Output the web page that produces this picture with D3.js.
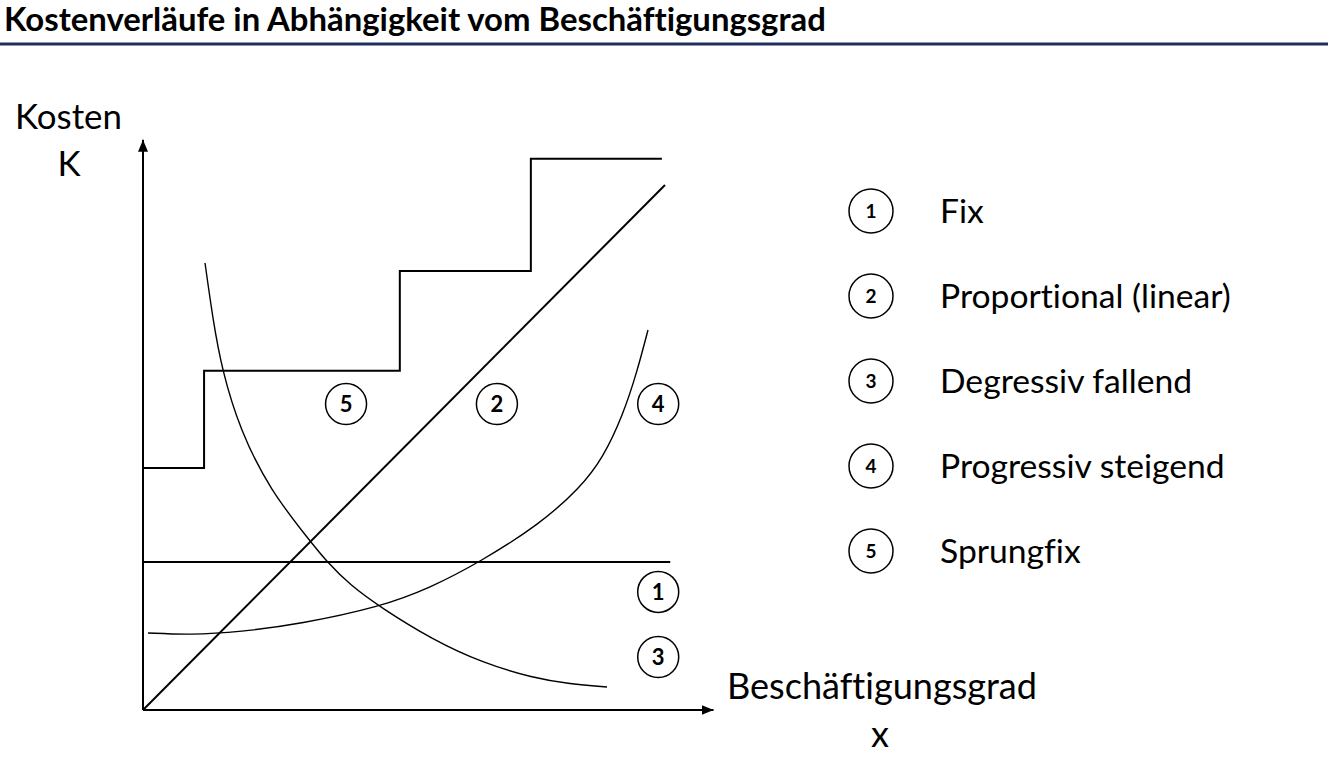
<!DOCTYPE html>
<html><head><meta charset="utf-8">
<script src="https://cdn.jsdelivr.net/npm/d3@7"></script>
<style>body{margin:0;background:#fff}svg{display:block}text{font-variant-ligatures:none;font-feature-settings:"liga" 0,"clig" 0}</style>
</head><body>
<svg id="c" width="1328" height="762"></svg>
<script>
// ---- data ----
const title = "Kostenverläufe in Abhängigkeit vom Beschäftigungsgrad";
const yAxisLabel = ["Kosten", "K"];
const xAxisLabel = ["Beschäftigungsgrad", "x"];
const legendIds = ["1", "2", "3", "4", "5"];
const legendNames = ["Fix", "Proportional (linear)", "Degressiv fallend", "Progressiv steigend", "Sprungfix"];

const fixX = [0, 101];
const fixY = [28.2, 28.2];
const linearX = [0, 100];
const linearY = [0, 100];
const degressivX = [11.88, 13.41, 15.13, 18.58, 24.33, 31.99, 35.25, 39.66, 45.40, 55.56, 65.13, 74.71, 81.80, 88.89];
const degressivY = [85.14, 74.29, 64.76, 53.33, 41.90, 32.19, 28.19, 23.81, 19.62, 13.33, 8.95, 6.10, 4.95, 4.38];
const progressivX = [0.96, 9.00, 18.58, 30.08, 45.40, 54.98, 64.56, 76.05, 83.72, 88.12, 91.95, 94.64, 96.74];
const progressivY = [14.67, 14.29, 14.86, 16.38, 19.62, 23.24, 28.19, 35.43, 42.29, 48.00, 56.19, 64.38, 72.38];
const sprungX = [0, 11.7, 49.2, 74.3, 99.4];
const sprungY = [46.1, 64.6, 83.6, 105, 105];
const markerIds = ["5", "2", "4", "1", "3"];
const markerX = [38.9, 67.8, 98.7, 98.7, 98.7];
const markerY = [58.3, 58.3, 58.3, 22.5, 10.1];
const axisMaxX = 109.3;
const axisMaxY = 108.6;

// ---- drawing ----
const svg = d3.select("#c");
const FONT = "Lato, 'Open Sans', sans-serif";
const x = d3.scaleLinear().domain([0, 100]).range([143, 665]);
const y = d3.scaleLinear().domain([0, 100]).range([710, 185]);

function fit(sel, w) {
  const l = sel.node().getComputedTextLength();
  const fs = parseFloat(sel.attr("font-size"));
  const nf = fs * w / l;
  sel.attr("font-size", nf);
  return nf;
}

// title
const t = svg.append("text").attr("x", 4).attr("y", 31).attr("font-family", FONT)
  .attr("font-weight", 700).attr("font-size", 28).attr("fill", "#000").text(title);
fit(t, 822);
svg.append("rect").attr("x", 0).attr("y", 42.5).attr("width", 1328).attr("height", 3).attr("fill", "#1f2f5e");

// arrow marker
const defs = svg.append("defs");
defs.append("marker").attr("id", "arr").attr("viewBox", "0 0 12 10").attr("refX", 12).attr("refY", 5)
  .attr("markerWidth", 12).attr("markerHeight", 10).attr("markerUnits", "userSpaceOnUse").attr("orient", "auto")
  .append("path").attr("d", "M0,0 L12,5 L0,10 Z").attr("fill", "#000");

// axes
svg.append("line").attr("x1", x(0)).attr("y1", y(0)).attr("x2", x(0)).attr("y2", y(axisMaxY))
  .attr("stroke", "#000").attr("stroke-width", 2).attr("marker-end", "url(#arr)");
svg.append("line").attr("x1", x(0)).attr("y1", y(0)).attr("x2", x(axisMaxX)).attr("y2", y(0))
  .attr("stroke", "#000").attr("stroke-width", 2).attr("marker-end", "url(#arr)");

const pts = (xs, ys) => xs.map((v, i) => [v, ys[i]]);
const lineGen = c => d3.line().x(d => x(d[0])).y(d => y(d[1])).curve(c);

svg.append("path").attr("d", lineGen(d3.curveLinear)(pts(fixX, fixY)))
  .attr("fill", "none").attr("stroke", "#000").attr("stroke-width", 2);
svg.append("path").attr("d", lineGen(d3.curveLinear)(pts(linearX, linearY)))
  .attr("fill", "none").attr("stroke", "#000").attr("stroke-width", 2);
svg.append("path").attr("d", lineGen(d3.curveStepAfter)(pts(sprungX, sprungY)))
  .attr("fill", "none").attr("stroke", "#000").attr("stroke-width", 2);
svg.append("path").attr("d", lineGen(d3.curveBasis)(pts(degressivX, degressivY)))
  .attr("fill", "none").attr("stroke", "#000").attr("stroke-width", 1.4);
svg.append("path").attr("d", lineGen(d3.curveBasis)(pts(progressivX, progressivY)))
  .attr("fill", "none").attr("stroke", "#000").attr("stroke-width", 1.4);

// numbered markers in plot
const mk = svg.append("g").selectAll("g").data(markerIds).join("g")
  .attr("transform", (d, i) => `translate(${x(markerX[i])},${y(markerY[i])})`);
mk.append("circle").attr("r", 20.5).attr("fill", "#fff").attr("stroke", "#000").attr("stroke-width", 1.5);
mk.append("text").attr("text-anchor", "middle").attr("dy", "0.36em").attr("font-family", FONT)
  .attr("font-weight", 700).attr("font-size", 22).text(d => d);

// axis labels
const k1 = svg.append("text").attr("x", 15).attr("y", 129).attr("font-family", FONT).attr("font-size", 34).text(yAxisLabel[0]);
fit(k1, 107);
svg.append("text").attr("x", 69).attr("y", 176).attr("text-anchor", "middle").attr("font-family", FONT)
  .attr("font-size", k1.attr("font-size")).text(yAxisLabel[1]);
const b1 = svg.append("text").attr("x", 727).attr("y", 699).attr("font-family", FONT).attr("font-size", 34).text(xAxisLabel[0]);
fit(b1, 310);
svg.append("text").attr("x", 880).attr("y", 747).attr("text-anchor", "middle").attr("font-family", FONT)
  .attr("font-size", b1.attr("font-size")).text(xAxisLabel[1]);

// legend
const lg = svg.append("g").selectAll("g").data(legendIds).join("g")
  .attr("transform", (d, i) => `translate(871,${211 + i * 85})`);
lg.append("circle").attr("r", 22).attr("fill", "#fff").attr("stroke", "#000").attr("stroke-width", 1.5);
lg.append("text").attr("text-anchor", "middle").attr("dy", "0.36em").attr("font-family", FONT)
  .attr("font-weight", 700).attr("font-size", 19).text(d => d);
const lt = lg.append("text").attr("x", 69).attr("dy", "0.35em").attr("font-family", FONT)
  .attr("font-size", 30).text((d, i) => legendNames[i]);
const probe = d3.select(lt.nodes()[1]);
const lfs = fit(probe, 291);
lt.attr("font-size", lfs);
</script>
</body></html>
